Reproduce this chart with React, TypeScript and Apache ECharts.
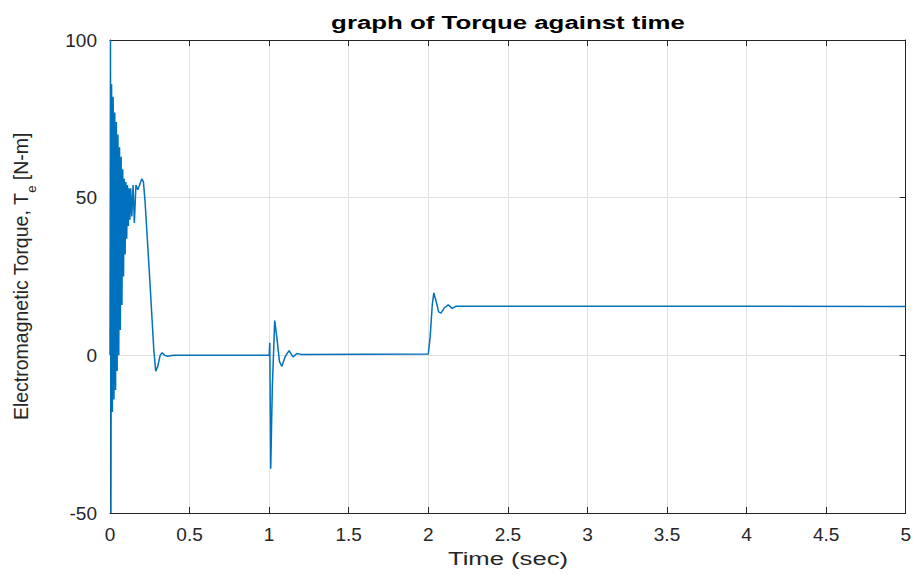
import React, { useEffect, useRef } from "react";
import * as echarts from "echarts";

// Time samples (s) and electromagnetic torque (N-m)
const timeSec = [
  0, 0.003, 0.006, 0.01, 0.015, 0.02, 0.025, 0.03, 0.035, 0.04, 0.045, 0.05,
  0.055, 0.06, 0.065, 0.07, 0.075, 0.08, 0.085, 0.09, 0.095, 0.1, 0.105, 0.11,
  0.115, 0.12, 0.125, 0.13, 0.137, 0.145, 0.153, 0.163, 0.175,
  0.2, 0.21, 0.22, 0.25, 0.275, 0.287, 0.3, 0.315, 0.327, 0.345, 0.36, 0.4,
  1.0, 1.004, 1.01, 1.02, 1.035, 1.05, 1.065, 1.08, 1.1, 1.125, 1.15, 1.175, 1.2,
  2.0, 2.012, 2.025, 2.035, 2.05, 2.065, 2.08, 2.1, 2.125, 2.15, 2.175, 5.0,
];
const torque = [
  0, 100, -50, 86, -18, 82, -14, 77, -11, 74, -5, 70,
  0, 66, 8, 63, 16, 59, 25, 56, 32, 55, 37, 54,
  41, 53, 43, 53, 44, 54, 42, 54, 52.5,
  56, 55, 49, 24, 2, -5, -3.5, 0, 0.8, 0, -0.3, 0,
  0, 4, -36, -10, 11, 5, -2, -3.5, -0.5, 1.5, -0.5, 0.6, 0.3,
  0.4, 6, 16, 19.8, 17, 13.8, 13.4, 15, 16, 14.9, 15.6, 15.5,
];

const xTicks = [0, 5, 0.5];
const yTicks = [-50, 100, 50];

const titleText = "graph of Torque against time";
const xName = "Time (sec)";

export default function App() {
  const ref = useRef<HTMLDivElement>(null);
  useEffect(() => {
    if (!ref.current) return;
    const chart = echarts.init(ref.current, undefined, { renderer: "svg" });
    const data = timeSec.map((t, i) => [t, torque[i]]);
    const axisColor = "#262626";
    const font = "'Liberation Sans', Arial, Helvetica, sans-serif";
    const gridColor = "#e0e0e0";
    const frameAxis = (position: string) => ({
      type: "value",
      position,
      axisLine: { show: true, onZero: false, lineStyle: { color: axisColor, width: 1 } },
      axisTick: { show: true, inside: true, length: 6, lineStyle: { color: axisColor } },
      axisLabel: { show: false },
      splitLine: { show: false },
    });
    chart.setOption({
      animation: false,
      backgroundColor: "#ffffff",
      grid: { left: 110, right: 7, top: 40, bottom: 62 },
      graphic: [
        {
          type: "text",
          x: 508,
          y: 22,
          scaleX: 1.36,
          style: {
            text: titleText,
            fontFamily: font,
            fontWeight: "bold",
            fontSize: 19,
            fill: "#000",
            textAlign: "center",
            textVerticalAlign: "middle",
          },
        },
        {
          type: "text",
          x: 508,
          y: 559,
          scaleX: 1.35,
          style: {
            text: xName,
            fontFamily: font,
            fontSize: 19,
            fill: axisColor,
            textAlign: "center",
            textVerticalAlign: "middle",
          },
        },
      ],
      xAxis: [
        {
          ...frameAxis("bottom"),
          min: xTicks[0],
          max: xTicks[1],
          interval: xTicks[2],
          axisLabel: {
            show: true,
            color: axisColor,
            fontFamily: font,
            fontSize: 19,
            margin: 12,
            formatter: (v: number) => String(v),
          },
          splitLine: { show: true, lineStyle: { color: gridColor, width: 1 } },
        },
        {
          ...frameAxis("top"),
          min: xTicks[0],
          max: xTicks[1],
          interval: xTicks[2],
        },
      ],
      yAxis: [
        {
          ...frameAxis("left"),
          min: yTicks[0],
          max: yTicks[1],
          interval: yTicks[2],
          axisLabel: {
            show: true,
            color: axisColor,
            fontFamily: font,
            fontSize: 19,
            margin: 13,
          },
          splitLine: { show: true, lineStyle: { color: gridColor, width: 1 } },
          name: "{a|Electromagnetic Torque, T}{sub|e}{a| [N-m]}",
          nameLocation: "middle",
          nameRotate: 90,
          nameGap: 72,
          nameTextStyle: {
            rich: {
              a: { fontFamily: font, fontSize: 19.5, color: axisColor, lineHeight: 22 },
              sub: {
                fontFamily: font,
                fontSize: 13,
                color: axisColor,
                lineHeight: 34,
                verticalAlign: "bottom",
              },
            },
          },
        },
        {
          ...frameAxis("right"),
          min: yTicks[0],
          max: yTicks[1],
          interval: yTicks[2],
        },
      ],
      series: [
        {
          type: "line",
          xAxisIndex: 0,
          yAxisIndex: 0,
          data,
          showSymbol: false,
          symbol: "none",
          clip: true,
          lineStyle: { color: "#0072BD", width: 1.5 },
        },
      ],
    });
    return () => chart.dispose();
  }, []);
  return (
    <div
      ref={ref}
      style={{ position: "fixed", left: 0, top: 0, width: 914, height: 575 }}
    />
  );
}
